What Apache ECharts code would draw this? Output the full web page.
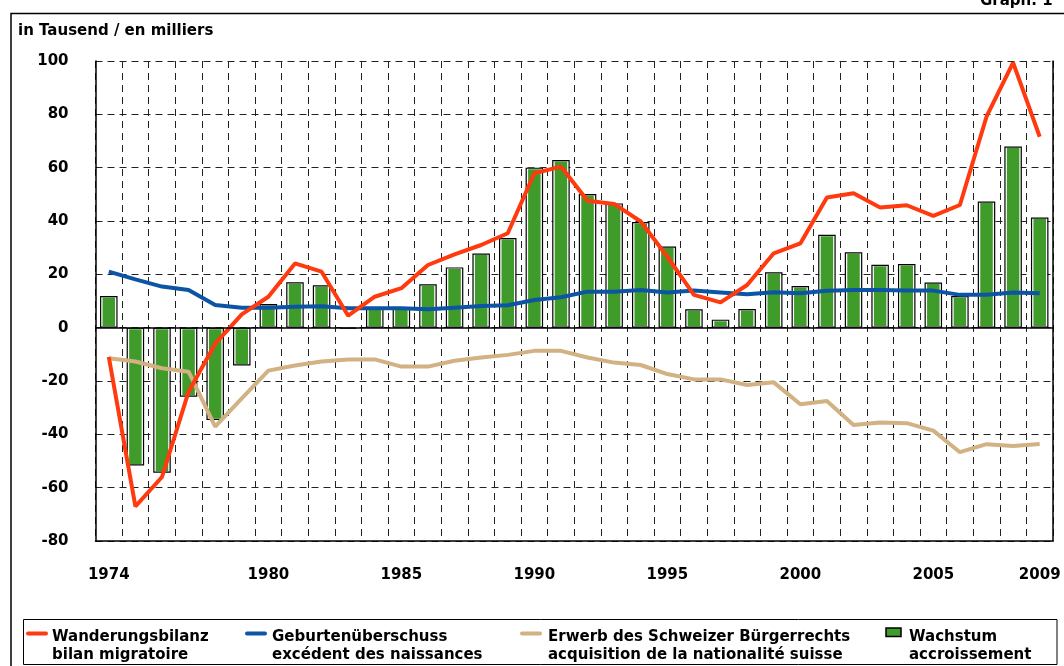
<!DOCTYPE html>
<html>
<head>
<meta charset="utf-8">
<script src="https://cdn.jsdelivr.net/npm/echarts@6/dist/echarts.min.js"></script>
<style>
html,body{margin:0;padding:0;background:#fff;}
#chart{width:1064px;height:666px;}
</style>
</head>
<body>
<div id="chart"></div>
<script>
const years = ['1974','1975','1976','1977','1978','1979','1980','1981','1982','1983','1984','1985',
  '1986','1987','1988','1989','1990','1991','1992','1993','1994','1995','1996','1997',
  '1998','1999','2000','2001','2002','2003','2004','2005','2006','2007','2008','2009'];
const labelYears = ['1974','1980','1985','1990','1995','2000','2005','2009'];
const yTicks = {min: -80, max: 100, interval: 20};

const wanderung = [-11,-67,-56,-24,-6,5,11.6,24.1,21,4.5,11.6,14.8,
  23.5,27.5,31,35.4,57.9,60.4,47.6,46.4,39.8,26.6,12.3,9.5,
  16,27.9,31.6,48.8,50.4,45.1,45.9,41.9,46,79.1,99.4,71.6];
const geburten = [21,18.1,15.4,14.1,8.5,7.5,7.5,7.8,8,7.3,7.3,7.3,
  6.9,7.5,8.1,8.4,10.4,11.4,13.5,13.5,14.1,13.2,13.9,13.2,
  12.5,13.3,12.9,13.8,14.1,14.1,13.9,13.9,12.3,12.3,13.2,12.9];
const erwerb = [-11.5,-12.7,-15.2,-16.5,-37.1,-26.5,-16.1,-14.2,-12.7,-11.9,-11.9,-14.6,
  -14.6,-12.4,-11.2,-10.2,-8.7,-8.7,-11.2,-13.1,-14,-17.4,-19.4,-19.4,
  -21.5,-20.5,-28.7,-27.5,-36.5,-35.6,-35.8,-38.6,-46.7,-43.7,-44.4,-43.6];
const wachstum = [11.9,-51.7,-54.4,-25.9,-34.6,-14.2,8.9,17,15.9,-0.3,7.5,7.5,
  16.3,22.6,27.8,33.6,60,62.9,50.1,46.6,39.6,30.4,6.9,3,
  7,20.8,15.6,34.8,28.3,23.6,23.9,16.9,11.9,47.3,67.9,41.3];

const names = {
  wan: 'Wanderungsbilanz\nbilan migratoire',
  geb: 'Geburtenüberschuss\nexcédent des naissances',
  erw: 'Erwerb des Schweizer Bürgerrechts\nacquisition de la nationalité suisse',
  wac: 'Wachstum\naccroissement'
};
const colors = {wan:'#FF3A0E', geb:'#0C55A4', erw:'#D2B183', wac:'#3F9B2A'};
const FONT = 'DejaVu Sans';
const txt = () => ({fontFamily: FONT, fontWeight: 'bold', fontSize: 15, color: '#000'});

const chart = echarts.init(document.getElementById('chart'), null, {renderer: 'canvas'});
const dash = [7,5];
const gridColor = '#222';

function legendItem(x, key, isBar, textX) {
  const els = [];
  if (isBar) {
    els.push({type:'rect', shape:{x:x, y:628, width:15, height:8.5},
      style:{fill:colors[key], stroke:'#000', lineWidth:1.5}});
  } else {
    els.push({type:'line', shape:{x1:x, y1:633.5, x2:x+18, y2:633.5},
      style:{stroke:colors[key], lineWidth:4, lineCap:'round'}});
  }
  els.push({type:'text', x:textX, y:628,
    style:{text:names[key], font:'bold 15px "' + FONT + '"', fill:'#000', lineHeight:18}});
  return els;
}

const option = {
  animation: false,
  backgroundColor: '#fff',
  grid: {left: 95.5, right: 11, top: 61, bottom: 125, containLabel: false},
  xAxis: [{
    type: 'category', data: years, boundaryGap: true,
    axisLine: {show: true, onZero: false, lineStyle: {color:'#000', width: 1.5}},
    axisTick: {show: false},
    axisLabel: Object.assign(txt(), {margin: 27, interval: (i, v) => labelYears.includes(v)}),
    splitLine: {show: true, interval: 0, lineStyle: {color: gridColor, width:1, type: dash}}
  }, {
    type: 'category', data: years, boundaryGap: true, show: false
  }],
  yAxis: [{
    type: 'value', min: yTicks.min, max: yTicks.max, interval: yTicks.interval,
    axisLine: {show: true, lineStyle: {color:'#000', width: 1.5}},
    axisTick: {show: false},
    axisLabel: Object.assign(txt(), {margin: 27}),
    splitLine: {show: true, lineStyle: {color: gridColor, width:1, type: dash}}
  }, {
    type: 'value', position: 'right', min: yTicks.min, max: yTicks.max, interval: yTicks.interval,
    axisLine: {show: true, lineStyle: {color:'#000', width: 1.5}},
    axisTick: {show: false}, axisLabel: {show: false}, splitLine: {show: false}
  }],
  series: [
    {name: names.wac, type: 'bar', data: wachstum, barWidth: 15.5, xAxisIndex: 1,
     itemStyle: {color: colors.wac, borderColor: '#fff', borderWidth: 1.5},
     z: 2},
    {name: names.wac + ' ', type: 'bar', data: wachstum, barWidth: 17.5, xAxisIndex: 0,
     itemStyle: {color: 'rgba(0,0,0,0)', borderColor: '#000', borderWidth: 1.2},
     markLine: {silent: true, symbol: 'none', label: {show: false},
       lineStyle: {color:'#000', type:'solid', width: 1.5}, data: [{yAxis: 0}]},
     z: 2.5},
    {name: names.geb, type: 'line', data: geburten, showSymbol: false,
     lineStyle: {color: colors.geb, width: 4}, itemStyle:{color: colors.geb}, z: 3},
    {name: names.erw, type: 'line', data: erwerb, showSymbol: false,
     lineStyle: {color: colors.erw, width: 4}, itemStyle:{color: colors.erw}, z: 3},
    {name: names.wan, type: 'line', data: wanderung, showSymbol: false,
     lineStyle: {color: colors.wan, width: 4}, itemStyle:{color: colors.wan}, z: 4}
  ],
  graphic: [
    {type:'polyline', shape:{points:[[11,666],[11,13.5],[1064,13.5]]},
     style:{stroke:'#000', lineWidth:1.5, fill:null}},
    {type:'text', x:980, y:-6, style:{text:'Graph. 1', font:'bold 15px "' + FONT + '"', fill:'#000'}},
    {type:'text', x:18, y:24, style:{text:'in Tausend / en milliers', font:'bold 15px "' + FONT + '"', fill:'#000'}},
    {type:'rect', shape:{x:23.5, y:619.5, width:1033.5, height:45},
     style:{fill:null, stroke:'#000', lineWidth:1}},
    ...legendItem(28, 'wan', false, 52),
    ...legendItem(247, 'geb', false, 272),
    ...legendItem(522, 'erw', false, 548),
    ...legendItem(886, 'wac', true, 909)
  ]
};
chart.setOption(option);
</script>
</body>
</html>
